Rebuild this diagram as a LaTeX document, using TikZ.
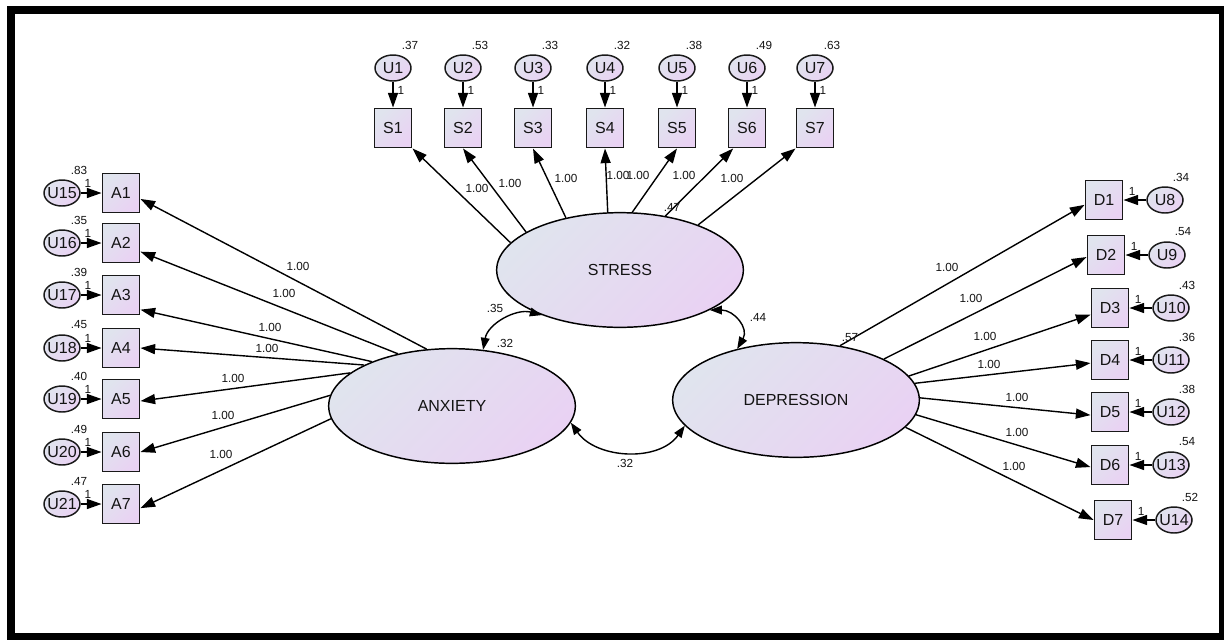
\documentclass[tikz,border=0pt]{standalone}
\usepackage{fontspec}
\setmainfont{Liberation Sans}
\usetikzlibrary{arrows.meta,shapes.geometric}
\definecolor{shA}{RGB}{224,228,238}
\definecolor{shB}{RGB}{233,210,243}
\definecolor{txt}{RGB}{20,20,20}
\begin{document}
\begin{tikzpicture}[x=0.75pt,y=-0.75pt,
  shd/.style={top color=shA,bottom color=shB,shading angle=45},
  obs/.style={draw=black!90,line width=1.2pt,shd,minimum width=28pt,minimum height=29.5pt,inner sep=0pt,font=\fontsize{12}{13}\selectfont,text=txt},
  err/.style={ellipse,draw=black!90,line width=1.1pt,shd,minimum width=27pt,minimum height=19.5pt,inner xsep=-3.5pt,inner ysep=0pt,font=\fontsize{12}{13}\selectfont,text=txt},
  lat/.style={ellipse,draw=black,line width=1.1pt,shd,minimum width=185pt,minimum height=86pt,inner sep=0pt,font=\fontsize{12}{13}\selectfont,text=txt},
  ld/.style={draw=black,line width=1.05pt,-{Triangle[length=11pt,width=7.5pt]}},
  cov/.style={draw=black,line width=1.05pt,{Triangle[length=9pt,width=6.5pt]}-{Triangle[length=9pt,width=6.5pt]}},
  sm/.style={font=\fontsize{8.8}{10}\selectfont,text=txt,inner sep=0pt}]
\useasboundingbox (0,0) rectangle (1224,640);
\fill[white] (0,0) rectangle (1224,640);
\fill[black] (7,6) rectangle (1224,640);
\fill[white] (15,14) rectangle (1219,633);

% latent variables
\node[lat] (stress) at (620,270) {STRESS};
\node[lat] (anx) at (452,406) {ANXIETY};
\node[lat] (dep) at (796,400) {DEPRESSION};

% stress indicators
\foreach \i/\x/\v in {1/393/.37,2/463/.53,3/533/.33,4/605/.32,5/677/.38,6/747/.49,7/815/.63}{
  \node[err] (u\i) at (\x,68) {U\i};
  \node[obs] (s\i) at (\x,128) {S\i};
  \node[sm] (uv\i) at (\x+17,45) {\v};
  \draw[ld] (u\i) -- (s\i);
  \node[sm] (uo\i) at (\x+8,90) {1};
}

% anxiety indicators
\foreach \j/\i/\y/\v in {1/15/193/.83,2/16/243/.35,3/17/295/.39,4/18/348/.45,5/19/399/.40,6/20/452/.49,7/21/504/.47}{
  \node[obs] (a\j) at (121,\y) {A\j};
  \node[err] (u\i) at (62,\y) {U\i};
  \node[sm] (uv\i) at (79,\y-23) {\v};
  \draw[ld] (u\i) -- (a\j);
  \node[sm] (uo\i) at (88,\y-10) {1};
}

% depression indicators
\foreach \j/\i/\y/\dx/\ux/\v in {1/8/200/1104/1165/.34,2/9/255/1106/1167/.54,3/10/308/1110/1171/.43,4/11/360/1110/1171/.36,5/12/412/1110/1171/.38,6/13/465/1110/1171/.54,7/14/520/1113/1174/.52}{
  \node[obs] (d\j) at (\dx,\y) {D\j};
  \node[err] (u\i) at (\ux,\y) {U\i};
  \node[sm] (uv\i) at (\ux+16,\y-23) {\v};
  \draw[ld] (u\i) -- (d\j);
  \node[sm] (uo\i) at (\dx+28,\y-9) {1};
}

% loadings stress
\draw[ld] (stress.166) -- (s1.south east);
\draw[ld] (stress.158) -- (s2.south);
\draw[ld] (stress.136) -- (s3.south);
\draw[ld] (stress.102) -- (s4.south);
\draw[ld] (stress.78) -- (s5.south);
\draw[ld] (stress.50) -- (s6.-124);
\draw[ld] (stress.30) -- (s7.south west);
\node[sm] (ls1) at (477,188) {1.00};
\node[sm] (ls2) at (510,183) {1.00};
\node[sm] (ls3) at (566,178) {1.00};
\node[sm] (ls4) at (618,175) {1.00};
\node[sm] (ls5) at (638,175) {1.00};
\node[sm] (ls6) at (684,175) {1.00};
\node[sm] (ls7) at (732,178) {1.00};

% loadings anxiety
\draw[ld] (anx.114) -- (a1.-17);
\draw[ld] (anx.136) -- (a2.-24);
\draw[ld] (anx.151) -- (a3.-37);
\draw[ld] (anx.155) -- (a4.east);
\draw[ld] (anx.162) -- (a5.-6);
\draw[ld] (anx.175) -- (a6.east);
\draw[ld] (anx.186) -- (a7.-12);
\node[sm] (la1) at (298,266) {1.00};
\node[sm] (la2) at (284,293) {1.00};
\node[sm] (la3) at (270,327) {1.00};
\node[sm] (la4) at (267,348) {1.00};
\node[sm] (la5) at (233,378) {1.00};
\node[sm] (la6) at (223,415) {1.00};
\node[sm] (la7) at (221,454) {1.00};

% loadings depression
\draw[ld] (dep.51) -- (d1.194);
\draw[ld] (dep.25) -- (d2.186);
\draw[ld] (dep.12) -- (d3.199);
\draw[ld] (dep.8) -- (d4.189);
\draw[ld] (dep.1) -- (d5.189);
\draw[ld] (dep.-7.5) -- (d6.186);
\draw[ld] (dep.-14.4) -- (d7.west);
\node[sm] (ld1) at (947,267) {1.00};
\node[sm] (ld2) at (971,298) {1.00};
\node[sm] (ld3) at (985,336) {1.00};
\node[sm] (ld4) at (989,364) {1.00};
\node[sm] (ld5) at (1017,397) {1.00};
\node[sm] (ld6) at (1017,432) {1.00};
\node[sm] (ld7) at (1014,466) {1.00};

% covariances
\draw[cov] (anx.61) to[out=80,in=165] (stress.210);
\draw[cov] (stress.-24) to[out=0,in=60,looseness=1.3] (dep.139);
\draw[cov] (anx.-8) to[out=-55,in=-125] (dep.193);
\node[sm] (c1) at (495,308) {.35};
\node[sm] (c2) at (758,317) {.44};
\node[sm] (c3) at (625,463) {.32};
\node[sm] (vs) at (672,207) {.47};
\node[sm] (va) at (505,343) {.32};
\node[sm] (vd) at (850,338) {.57};
\end{tikzpicture}
\end{document}
